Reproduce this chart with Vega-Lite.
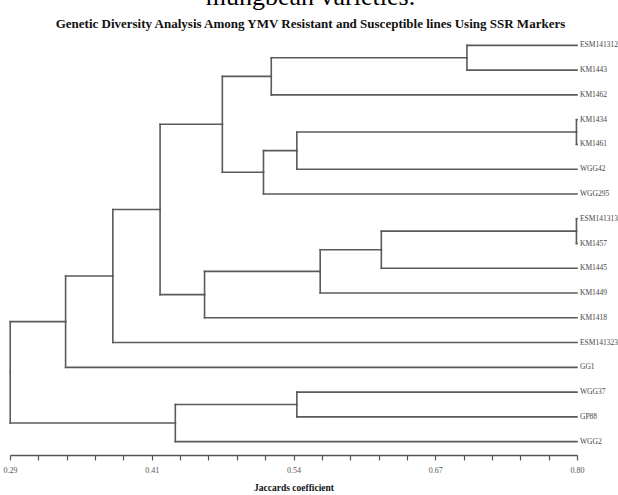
{
  "$schema": "https://vega.github.io/schema/vega-lite/v6.json",
  "autosize": "none",
  "width": 567,
  "height": 422,
  "padding": {"left": 10, "top": 33, "right": 41, "bottom": 40},
  "background": "white",
  "title": {
    "text": "mungbean varieties.",
    "subtitle": "Genetic Diversity Analysis Among YMV Resistant and Susceptible lines Using SSR Markers",
    "font": "Liberation Serif",
    "fontSize": 26,
    "fontWeight": "normal",
    "color": "#000000",
    "subtitleFont": "Liberation Serif",
    "subtitleFontSize": 13,
    "subtitleFontWeight": "bold",
    "subtitleColor": "#111111",
    "subtitlePadding": 8,
    "offset": 2,
    "anchor": "middle",
    "frame": "bounds"
  },
  "datasets": {
    "edges": [
      {"parent_h": 0.701, "parent_y": 0.5, "child_h": 0.80, "child_y": 0},
      {"parent_h": 0.701, "parent_y": 0.5, "child_h": 0.80, "child_y": 1},
      {"parent_h": 0.525, "parent_y": 1.25, "child_h": 0.701, "child_y": 0.5},
      {"parent_h": 0.525, "parent_y": 1.25, "child_h": 0.80, "child_y": 2},
      {"parent_h": 0.7995, "parent_y": 3.5, "child_h": 0.80, "child_y": 3},
      {"parent_h": 0.7995, "parent_y": 3.5, "child_h": 0.80, "child_y": 4},
      {"parent_h": 0.548, "parent_y": 4.25, "child_h": 0.7995, "child_y": 3.5},
      {"parent_h": 0.548, "parent_y": 4.25, "child_h": 0.80, "child_y": 5},
      {"parent_h": 0.518, "parent_y": 5.125, "child_h": 0.548, "child_y": 4.25},
      {"parent_h": 0.518, "parent_y": 5.125, "child_h": 0.80, "child_y": 6},
      {"parent_h": 0.481, "parent_y": 3.1875, "child_h": 0.525, "child_y": 1.25},
      {"parent_h": 0.481, "parent_y": 3.1875, "child_h": 0.518, "child_y": 5.125},
      {"parent_h": 0.7995, "parent_y": 7.5, "child_h": 0.80, "child_y": 7},
      {"parent_h": 0.7995, "parent_y": 7.5, "child_h": 0.80, "child_y": 8},
      {"parent_h": 0.624, "parent_y": 8.25, "child_h": 0.7995, "child_y": 7.5},
      {"parent_h": 0.624, "parent_y": 8.25, "child_h": 0.80, "child_y": 9},
      {"parent_h": 0.569, "parent_y": 9.125, "child_h": 0.624, "child_y": 8.25},
      {"parent_h": 0.569, "parent_y": 9.125, "child_h": 0.80, "child_y": 10},
      {"parent_h": 0.465, "parent_y": 10.0625, "child_h": 0.569, "child_y": 9.125},
      {"parent_h": 0.465, "parent_y": 10.0625, "child_h": 0.80, "child_y": 11},
      {"parent_h": 0.425, "parent_y": 6.625, "child_h": 0.481, "child_y": 3.1875},
      {"parent_h": 0.425, "parent_y": 6.625, "child_h": 0.465, "child_y": 10.0625},
      {"parent_h": 0.3825, "parent_y": 9.3125, "child_h": 0.425, "child_y": 6.625},
      {"parent_h": 0.3825, "parent_y": 9.3125, "child_h": 0.80, "child_y": 12},
      {"parent_h": 0.340, "parent_y": 11.15625, "child_h": 0.3825, "child_y": 9.3125},
      {"parent_h": 0.340, "parent_y": 11.15625, "child_h": 0.80, "child_y": 13},
      {"parent_h": 0.548, "parent_y": 14.5, "child_h": 0.80, "child_y": 14},
      {"parent_h": 0.548, "parent_y": 14.5, "child_h": 0.80, "child_y": 15},
      {"parent_h": 0.4387, "parent_y": 15.25, "child_h": 0.548, "child_y": 14.5},
      {"parent_h": 0.4387, "parent_y": 15.25, "child_h": 0.80, "child_y": 16},
      {"parent_h": 0.2902, "parent_y": 13.203125, "child_h": 0.340, "child_y": 11.15625},
      {"parent_h": 0.2902, "parent_y": 13.203125, "child_h": 0.4387, "child_y": 15.25}
    ],
    "leaves": [
      {"name": "ESM141312", "h": 0.80, "y": 0},
      {"name": "KM1443", "h": 0.80, "y": 1},
      {"name": "KM1462", "h": 0.80, "y": 2},
      {"name": "KM1434", "h": 0.80, "y": 3},
      {"name": "KM1461", "h": 0.80, "y": 4},
      {"name": "WGG42", "h": 0.80, "y": 5},
      {"name": "WGG295", "h": 0.80, "y": 6},
      {"name": "ESM141313", "h": 0.80, "y": 7},
      {"name": "KM1457", "h": 0.80, "y": 8},
      {"name": "KM1445", "h": 0.80, "y": 9},
      {"name": "KM1449", "h": 0.80, "y": 10},
      {"name": "KM1418", "h": 0.80, "y": 11},
      {"name": "ESM141323", "h": 0.80, "y": 12},
      {"name": "GG1", "h": 0.80, "y": 13},
      {"name": "WGG37", "h": 0.80, "y": 14},
      {"name": "GP88", "h": 0.80, "y": 15},
      {"name": "WGG2", "h": 0.80, "y": 16}
    ]
  },
  "layer": [
    {
      "data": {"name": "edges"},
      "mark": {"type": "rule", "color": "#5a5a5a", "strokeWidth": 1.6, "strokeCap": "square"},
      "encoding": {
        "x": {
          "field": "parent_h",
          "type": "quantitative",
          "scale": {"domain": [0.29, 0.80], "nice": false, "zero": false},
          "axis": {
            "title": "Jaccards coefficient",
            "titleFont": "Liberation Serif",
            "titleFontSize": 9.5,
            "titleFontWeight": "bold",
            "titleColor": "#111111",
            "titlePadding": 8,
            "values": [0.29, 0.3155, 0.341, 0.3665, 0.392, 0.4175, 0.443, 0.4685, 0.494, 0.5195, 0.545, 0.5705, 0.596, 0.6215, 0.647, 0.6725, 0.698, 0.7235, 0.749, 0.7745, 0.80],
            "tickCount": 40,
            "labelExpr": "round((datum.value-0.29)/0.0255) % 5 == 0 ? format(floor(datum.value*100+0.001)/100, '.2f') : ''",
            "labelFont": "Liberation Serif",
            "labelFontSize": 8,
            "labelColor": "#555555",
            "labelPadding": 6,
            "labelFlush": false,
            "labelOverlap": false,
            "tickSize": 5,
            "tickColor": "#555555",
            "tickWidth": 1.2,
            "domainColor": "#555555",
            "domainWidth": 1.4,
            "grid": false
          }
        },
        "x2": {"field": "child_h"},
        "y": {
          "field": "child_y",
          "type": "quantitative",
          "scale": {"domain": [-0.5, 16.54], "nice": false, "zero": false, "reverse": true},
          "axis": null
        }
      }
    },
    {
      "data": {"name": "edges"},
      "mark": {"type": "rule", "color": "#5a5a5a", "strokeWidth": 1.6, "strokeCap": "square"},
      "encoding": {
        "x": {"field": "parent_h", "type": "quantitative"},
        "y": {"field": "child_y", "type": "quantitative"},
        "y2": {"field": "parent_y"}
      }
    },
    {
      "data": {"name": "leaves"},
      "mark": {"type": "text", "align": "left", "baseline": "middle", "dx": 3, "font": "Liberation Serif", "fontSize": 7.5, "color": "#444444"},
      "encoding": {
        "x": {"field": "h", "type": "quantitative"},
        "y": {"field": "y", "type": "quantitative"},
        "text": {"field": "name"}
      }
    }
  ],
  "config": {"view": {"stroke": null}}
}
